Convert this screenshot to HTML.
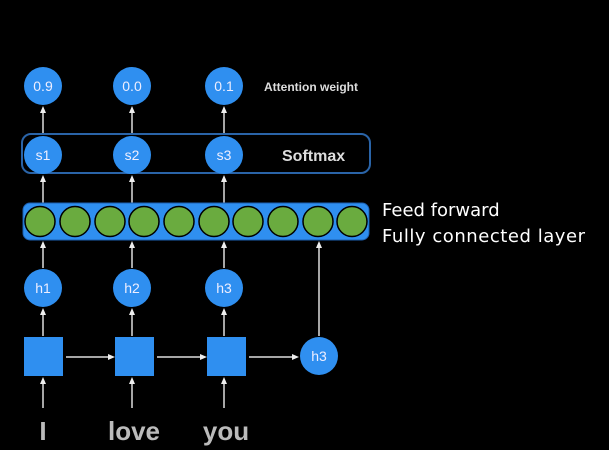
<!DOCTYPE html>
<html><head><meta charset="utf-8"><style>
html,body{margin:0;padding:0;background:#000;width:609px;height:450px;overflow:hidden}
svg{display:block}
</style></head><body>
<svg width="609" height="450" viewBox="0 0 609 450" xmlns="http://www.w3.org/2000/svg">
<defs>
<marker id="a" markerWidth="8" markerHeight="8" refX="4" refY="4" orient="auto" markerUnits="userSpaceOnUse">
<path d="M0,1 L7,4 L0,7 z" fill="#eee"/></marker>
</defs>
<rect width="609" height="450" fill="#000"/>
<g stroke="#ddd" stroke-width="1.5" fill="none" marker-end="url(#a)">
<line x1="43" y1="134" x2="43" y2="109"/>
<line x1="132" y1="134" x2="132" y2="109"/>
<line x1="224" y1="134" x2="224" y2="109"/>
<line x1="43" y1="203" x2="43" y2="178"/>
<line x1="132" y1="203" x2="132" y2="178"/>
<line x1="224" y1="203" x2="224" y2="178"/>
<line x1="43" y1="268" x2="43" y2="244"/>
<line x1="132" y1="268" x2="132" y2="244"/>
<line x1="224" y1="268" x2="224" y2="244"/>
<line x1="319" y1="336" x2="319" y2="244"/>
<line x1="43" y1="336" x2="43" y2="311"/>
<line x1="132" y1="336" x2="132" y2="311"/>
<line x1="224" y1="336" x2="224" y2="311"/>
<line x1="43" y1="408" x2="43" y2="380"/>
<line x1="132" y1="408" x2="132" y2="380"/>
<line x1="224" y1="408" x2="224" y2="380"/>
<line x1="66" y1="357" x2="112" y2="357"/>
<line x1="157" y1="357" x2="204" y2="357"/>
<line x1="249" y1="357" x2="296" y2="357"/>
</g>
<rect x="22" y="134" width="348" height="39" rx="9" fill="none" stroke="#2a64a8" stroke-width="2"/>
<rect x="23" y="203" width="346" height="37" rx="7" fill="#2f8ff0" stroke="#1c5fb0" stroke-width="1"/>
<g fill="#6aab3f" stroke="#000" stroke-width="1.5">
<circle cx="40" cy="221.5" r="15"/><circle cx="75" cy="221.5" r="15"/><circle cx="110" cy="221.5" r="15"/>
<circle cx="144" cy="221.5" r="15"/><circle cx="179" cy="221.5" r="15"/><circle cx="214" cy="221.5" r="15"/>
<circle cx="248" cy="221.5" r="15"/><circle cx="283" cy="221.5" r="15"/><circle cx="318" cy="221.5" r="15"/>
<circle cx="352" cy="221.5" r="15"/>
</g>
<g fill="#2f8ff0">
<circle cx="43" cy="86" r="19"/><circle cx="132" cy="86" r="19"/><circle cx="224" cy="86" r="19"/>
<circle cx="43" cy="155" r="19"/><circle cx="132" cy="155" r="19"/><circle cx="224" cy="155" r="19"/>
<circle cx="43" cy="288" r="19"/><circle cx="132" cy="288" r="19"/><circle cx="224" cy="288" r="19"/>
<circle cx="319" cy="356" r="19"/>
<rect x="24" y="337" width="39" height="39"/><rect x="115" y="337" width="39" height="39"/><rect x="207" y="337" width="39" height="39"/>
</g>
<g fill="#eef" font-family="Liberation Sans, sans-serif" font-size="14" text-anchor="middle">
<text x="43" y="91">0.9</text><text x="132" y="91">0.0</text><text x="224" y="91">0.1</text>
<text x="43" y="160">s1</text><text x="132" y="160">s2</text><text x="224" y="160">s3</text>
<text x="43" y="293">h1</text><text x="132" y="293">h2</text><text x="224" y="293">h3</text>
<text x="319" y="361">h3</text>
</g>
<text x="264" y="91" fill="#ddd" font-family="Liberation Sans, sans-serif" font-size="12" font-weight="bold">Attention weight</text>
<text x="282" y="161" fill="#ddd" font-family="Liberation Sans, sans-serif" font-size="16" font-weight="bold">Softmax</text>
<g fill="#bbb" font-family="Liberation Sans, sans-serif" font-size="26" font-weight="bold" text-anchor="middle">
<text x="43" y="440">I</text><text x="134" y="440">love</text><text x="226" y="440">you</text>
</g>
<g fill="#fff" font-family="DejaVu Sans, sans-serif" font-size="18">
<text x="382" y="216">Feed forward</text>
<text x="382" y="242" textLength="203">Fully connected layer</text>
</g>
</svg>
</body></html>
